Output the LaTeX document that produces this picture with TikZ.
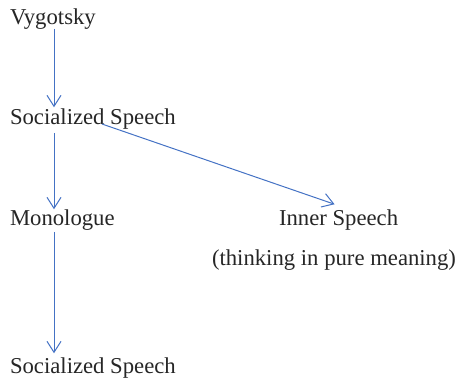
\documentclass[tikz,border=0pt]{standalone}
\usepackage{fontspec}
\setmainfont{Liberation Serif}
\usetikzlibrary{arrows.meta}
\definecolor{arrowblue}{RGB}{68,114,196}
\tikzset{
  lbl/.style={anchor=base west, inner sep=0pt, outer sep=0pt, font=\fontsize{22.7pt}{26pt}\selectfont, text=black!85},
  arr/.style={draw=arrowblue, line width=1pt, -{Straight Barb[length=11pt,width=14pt,line width=1pt]}}
}
\begin{document}
\begin{tikzpicture}[x=1pt,y=1pt]
\useasboundingbox (0,0) rectangle (458,-378);
\node[lbl] (v) at (10,-24) {Vygotsky};
\node[lbl] (s1) at (10,-124) {Socialized Speech};
\node[lbl] (m) at (10,-225) {Monologue};
\node[lbl] (s2) at (10,-373) {Socialized Speech};
\node[lbl] (inner) at (279,-225) {Inner Speech};
\node[lbl] (think) at (212,-265) {(thinking in pure meaning)};
\draw[arr] ([xshift=44pt]v.south west) -- ([xshift=44pt,yshift=1pt]s1.north west);
\draw[arr] ([xshift=44pt,yshift=-4pt]s1.south west) -- ([xshift=44pt]m.north west);
\draw[arr] ([xshift=44pt,yshift=-2pt]m.south west) -- ([xshift=44pt,yshift=4pt]s2.north west);
\draw[arr] ([xshift=92pt]s1.base west) -- ([xshift=-4pt,yshift=5pt]inner.north);
\end{tikzpicture}
\end{document}
